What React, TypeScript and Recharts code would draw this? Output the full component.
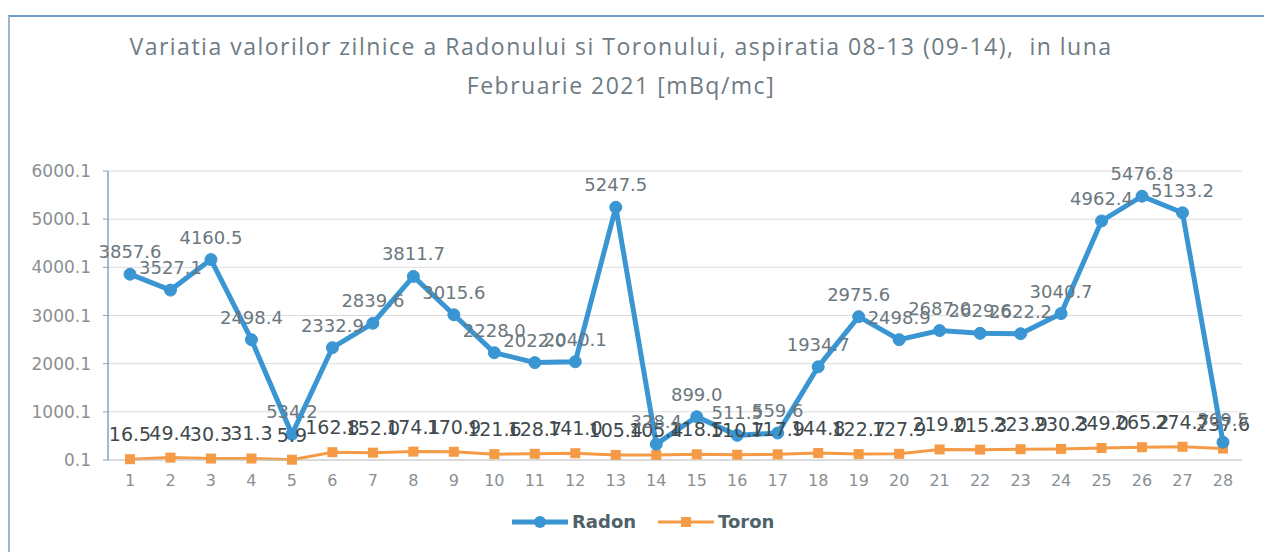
import React from "react";
import {
  CartesianGrid,
  LabelList,
  Line,
  LineChart,
  XAxis,
  YAxis,
} from "recharts";

const days = [
  "1", "2", "3", "4", "5", "6", "7", "8", "9", "10", "11", "12", "13", "14",
  "15", "16", "17", "18", "19", "20", "21", "22", "23", "24", "25", "26", "27", "28",
];

const radon = [
  3857.6, 3527.1, 4160.5, 2498.4, 534.2, 2332.9, 2839.6, 3811.7, 3015.6, 2228.0,
  2022.0, 2040.1, 5247.5, 328.4, 899.0, 511.5, 559.6, 1934.7, 2975.6, 2498.9,
  2687.0, 2629.6, 2622.2, 3040.7, 4962.4, 5476.8, 5133.2, 369.5,
];

const toron = [
  16.5, 49.4, 30.3, 31.3, 5.9, 162.8, 152.0, 174.1, 170.9, 121.6, 128.7, 141.0,
  105.4, 105.4, 118.5, 110.7, 117.9, 144.8, 122.7, 127.9, 219.0, 215.3, 223.9,
  230.3, 249.0, 265.2, 274.7, 237.6,
];

const yTicks = [0.1, 1000.1, 2000.1, 3000.1, 4000.1, 5000.1, 6000.1];

const data = days.map((day, i) => ({ day, radon: radon[i], toron: toron[i] }));

const BLUE = "#3a95d3";
const ORANGE = "#f59a45";
const FONT = "'DejaVu Sans', sans-serif";

const fmt = (v: any) => Number(v).toFixed(1);

export default function App() {
  return (
    <div
      style={{
        position: "absolute",
        left: 0,
        top: 0,
        width: 1264,
        height: 552,
        background: "#fff",
        overflow: "hidden",
      }}
    >
      {/* chart frame */}
      <div
        style={{
          position: "absolute",
          left: 8,
          top: 15,
          width: 1270,
          height: 560,
          borderLeft: "2px solid #9fb6c9",
          borderTop: "2px solid #6f9cc4",
        }}
      />
      <div
        style={{
          position: "absolute",
          left: 0,
          top: 27,
          width: 1242,
          textAlign: "center",
          fontFamily: "'Open Sans', sans-serif",
          fontSize: 23,
          letterSpacing: 1.5,
          color: "#6d7b84",
          lineHeight: "39px",
        }}
      >
        Variatia valorilor zilnice a Radonului si Toronului, aspiratia 08-13 (09-14),&nbsp; in luna
        <br />
        Februarie 2021 [mBq/mc]
      </div>

      <div style={{ position: "absolute", left: 0, top: 0 }}>
        <LineChart
          width={1264}
          height={552}
          data={data}
          margin={{ top: 171, right: 22, bottom: 62, left: 0 }}
        >
          <CartesianGrid stroke="#dcdcdc" vertical={false} />
          <XAxis
            dataKey="day"
            padding={{ left: 22, right: 19 }}
            interval={0}
            tick={{ fill: "#8a8f93", fontSize: 16, fontFamily: FONT }}
            tickMargin={9}
            axisLine={{ stroke: "#c8c8c8" }}
            tickLine={false}
            height={30}
          />
          <YAxis
            width={108}
            domain={[0.1, 6000.1]}
            ticks={yTicks}
            tickFormatter={fmt}
            tick={{ fill: "#8a8f93", fontSize: 17, fontFamily: FONT }}
            tickSize={5}
            tickMargin={12}
            axisLine={{ stroke: "#7fa6c6", strokeWidth: 1.5 }}
            tickLine={{ stroke: "#7fa6c6" }}
          />
          <Line
            dataKey="toron"
            stroke={ORANGE}
            strokeWidth={3}
            isAnimationActive={false}
            dot={(p: any) => (
              <rect
                key={`t${p.index}`}
                x={p.cx - 5}
                y={p.cy - 5}
                width={10}
                height={10}
                fill={ORANGE}
              />
            )}
          >
            <LabelList
              dataKey="toron"
              position="top"
              offset={18}
              formatter={fmt}
              style={{ fill: "#3f4a4e", fontSize: 19, fontFamily: FONT }}
            />
          </Line>
          <Line
            dataKey="radon"
            stroke={BLUE}
            strokeWidth={5}
            isAnimationActive={false}
            dot={{ r: 6, fill: BLUE, stroke: BLUE, strokeWidth: 1 }}
          >
            <LabelList
              dataKey="radon"
              position="top"
              offset={16}
              formatter={fmt}
              style={{ fill: "#6b777e", fontSize: 18, fontFamily: FONT }}
            />
          </Line>
        </LineChart>
      </div>

      {/* legend */}
      <div
        style={{
          position: "absolute",
          left: 512,
          top: 511,
          display: "flex",
          alignItems: "center",
          fontFamily: FONT,
          fontSize: 18,
          fontWeight: "bold",
          color: "#4f6169",
        }}
      >
        <svg width={56} height={14}>
          <line x1={0} y1={7} x2={56} y2={7} stroke={BLUE} strokeWidth={5} />
          <circle cx={28} cy={7} r={6} fill={BLUE} />
        </svg>
        <span style={{ marginLeft: 4 }}>Radon</span>
        <svg width={56} height={14} style={{ marginLeft: 22 }}>
          <line x1={0} y1={7} x2={56} y2={7} stroke={ORANGE} strokeWidth={3} />
          <rect x={23} y={2} width={10} height={10} fill={ORANGE} />
        </svg>
        <span style={{ marginLeft: 4 }}>Toron</span>
      </div>
    </div>
  );
}
